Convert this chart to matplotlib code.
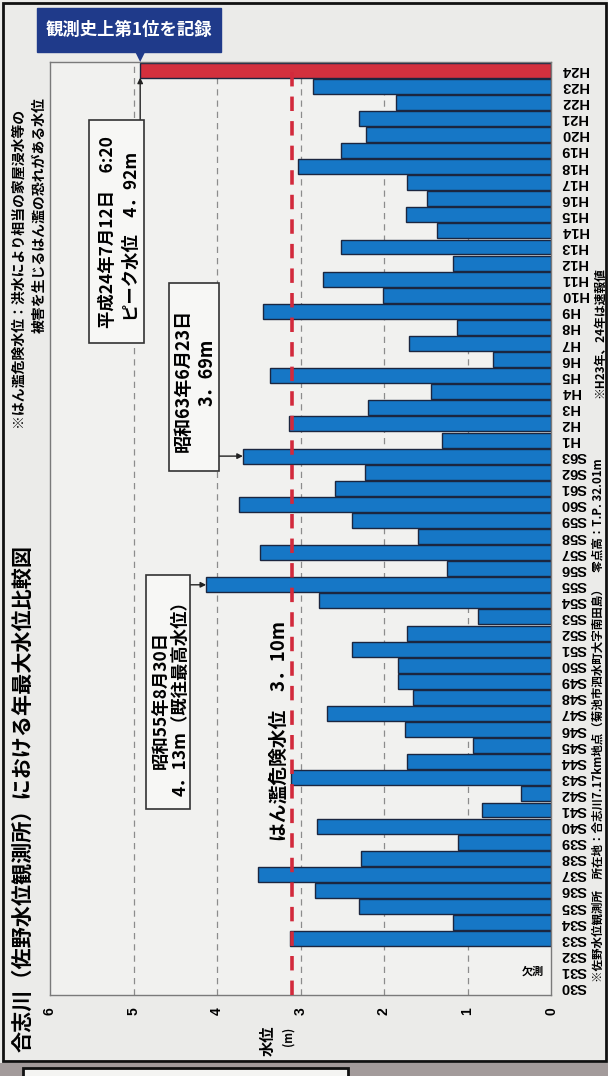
import numpy as np
import matplotlib
matplotlib.use('Agg')
import matplotlib.pyplot as plt
from matplotlib.patches import Rectangle, Polygon
from matplotlib.transforms import blended_transform_factory

plt.rcParams['font.family'] = ['Noto Sans CJK JP', 'DejaVu Sans']

# ---------------- data ----------------
years = ['S30', 'S31', 'S32', 'S33', 'S34', 'S35', 'S36', 'S37', 'S38', 'S39',
         'S40', 'S41', 'S42', 'S43', 'S44', 'S45', 'S46', 'S47', 'S48', 'S49',
         'S50', 'S51', 'S52', 'S53', 'S54', 'S55', 'S56', 'S57', 'S58', 'S59',
         'S60', 'S61', 'S62', 'S63', 'H1', 'H2', 'H3', 'H4', 'H5', 'H6',
         'H7', 'H8', 'H9', 'H10', 'H11', 'H12', 'H13', 'H14', 'H15', 'H16',
         'H17', 'H18', 'H19', 'H20', 'H21', 'H22', 'H23', 'H24']
nan = float('nan')
levels = [nan, nan, nan, 3.12, 1.17, 2.30, 2.83, 3.51, 2.28, 1.11,
          2.80, 0.83, 0.36, 3.11, 1.73, 0.93, 1.75, 2.68, 1.65, 1.83,
          1.83, 2.38, 1.73, 0.88, 2.78, 4.13, 1.24, 3.49, 1.59, 2.38,
          3.74, 2.59, 2.23, 3.69, 1.30, 3.14, 2.19, 1.44, 3.37, 0.69,
          1.70, 1.13, 3.45, 2.01, 2.73, 1.17, 2.52, 1.36, 1.74, 1.49,
          1.72, 3.03, 2.52, 2.21, 2.30, 1.86, 2.85, 4.92]
missing_year = 'S31'
record_year = 'H24'
danger_level = 3.10
value_ticks = [0, 1, 2, 3, 4, 5, 6]
value_tick_labels = ['0', '1', '2', '3', '4', '5', '6']

title = '合志川（佐野水位観測所）における年最大水位比較図'
note_lines = ['※はん濫危険水位：洪水により相当の家屋浸水等の',
              '被害を生じるはん濫の恐れがある水位']
danger_label = 'はん濫危険水位　3．10m'
record_banner = '観測史上第1位を記録'
annot_h24 = ['平成24年7月12日　6:20', 'ピーク水位　4．92m']
annot_s63 = ['昭和63年6月23日', '3．69m']
annot_s55 = ['昭和55年8月30日', '4．13m（既往最高水位）']
foot1 = '※佐野水位観測所　所在地：合志川7.17km地点（菊池市泗水町大字南田島）　零点高：T.P. 32.01m'
foot2 = '※H23年、24年は速報値'

# ---------------- layout helpers ----------------
W, H = 608, 1076
fig = plt.figure(figsize=(W / 100, H / 100), dpi=100)
PAPER = '#ebebe9'
fig.patch.set_facecolor(PAPER)


def frect(x0, y0, x1, y1, fc, ec, lw, z=5):
    r = Rectangle((x0 / W, 1 - y1 / H), (x1 - x0) / W, (y1 - y0) / H,
                  transform=fig.transFigure, facecolor=fc, edgecolor=ec,
                  lw=lw, zorder=z)
    fig.add_artist(r)


def ftext(px, py, s, **kw):
    kw.setdefault('zorder', 6)
    return fig.text(px / W, 1 - py / H, s, **kw)


L, R, T, B = 50, 551, 62, 995
ax = fig.add_axes([L / W, 1 - B / H, (R - L) / W, (B - T) / H])
ax.set_facecolor('#f1f1ef')

n = len(years)
pos = np.arange(n)
vals = np.array(levels, dtype=float)
ok = ~np.isnan(vals)
colors = np.array(['#d3303e' if y == record_year else '#1677c6' for y in years])
ax.barh(pos[ok], vals[ok], height=0.93, color=colors[ok],
        edgecolor='#1b2640', linewidth=1.0, zorder=2)

ax.set_xlim(6, 0)
ax.set_ylim(-0.5, n - 0.5)

for v in value_ticks[1:-1]:
    ax.axvline(v, color='#8c8c8c', lw=0.9, ls=(0, (5, 4)), zorder=1)
ax.axvline(danger_level, color='#d22a3c', lw=2.6, ls=(0, (4, 2.8)), zorder=3)

for s in ax.spines.values():
    s.set_color('#7a7a7a')
    s.set_linewidth(1.0)

ax.set_xticks(value_ticks)
ax.set_xticklabels(value_tick_labels, rotation=90, fontsize=10,
                   fontweight='bold', family=['Liberation Sans', 'DejaVu Sans'])
ax.tick_params(axis='x', length=0, pad=9)

ax.yaxis.tick_right()
ax.set_yticks(pos)
ax.set_yticklabels(years, rotation=180, fontsize=10.5, fontweight='bold',
                   family=['Liberation Sans', 'DejaVu Sans'], va='center')
ax.tick_params(axis='y', length=0, pad=7)

# missing-data label
mi = years.index(missing_year)
ax.text(0.08, mi, '欠測', ha='right', va='center', fontsize=8,
        fontweight='bold', zorder=4)

# ---------------- annotations ----------------
arrow_kw = dict(arrowstyle='-|>', color='#222222', lw=1.0,
                mutation_scale=8, shrinkA=0, shrinkB=0)

# H24 record box
frect(89, 120, 144, 343, '#f7f7f5', '#333333', 1.2)
ftext(108, 232, annot_h24[0], rotation=90, ha='center', va='center',
      fontsize=12.5, fontweight='bold')
ftext(132, 236, annot_h24[1], rotation=90, ha='center', va='center',
      fontsize=12.5, fontweight='bold')
ih = years.index(record_year)
ax.annotate('', xy=(levels[ih], ih - 0.47), xycoords='data',
            xytext=(levels[ih], 1 - 120 / H),
            textcoords=('data', 'figure fraction'),
            arrowprops=arrow_kw, annotation_clip=False)

# S63 box
frect(169, 283, 219, 471, '#f7f7f5', '#333333', 1.2)
ftext(183, 380, annot_s63[0], rotation=90, ha='center', va='center',
      fontsize=13, fontweight='bold')
ftext(207, 372, annot_s63[1], rotation=90, ha='center', va='center',
      fontsize=13, fontweight='bold')
i63 = years.index('S63')
ax.annotate('', xy=(levels[i63], i63), xycoords='data',
            xytext=(219 / W, i63), textcoords=('figure fraction', 'data'),
            arrowprops=arrow_kw, annotation_clip=False)

# S55 box
frect(146, 575, 190, 809, '#f7f7f5', '#333333', 1.2)
ftext(161, 700, annot_s55[0], rotation=90, ha='center', va='center',
      fontsize=12.5, fontweight='bold')
ftext(181, 694, annot_s55[1], rotation=90, ha='center', va='center',
      fontsize=12.5, fontweight='bold')
i55 = years.index('S55')
ax.annotate('', xy=(levels[i55], i55), xycoords='data',
            xytext=(190 / W, i55), textcoords=('figure fraction', 'data'),
            arrowprops=arrow_kw, annotation_clip=False)

# record banner
frect(37, 8, 221, 52, '#1f3a8a', '#1f3a8a', 1.0, z=7)
ftext(129, 30, record_banner, ha='center', va='center', fontsize=12.5,
      fontweight='bold', color='white', zorder=8)
bt = blended_transform_factory(ax.transData, fig.transFigure)
tri = Polygon([(levels[ih] + 0.065, 1 - 51 / H), (levels[ih] - 0.065, 1 - 51 / H),
               (levels[ih], 1 - 62 / H)], closed=True, transform=bt,
              facecolor='#1f3a8a', edgecolor='none', zorder=8, clip_on=False)
fig.add_artist(tri)

# danger level label
ftext(279, 731, danger_label, rotation=90, ha='center', va='center',
      fontsize=13.5, fontweight='bold')

# axis label
ftext(268, 1041, '水位', rotation=90, ha='center', va='center',
      fontsize=11, fontweight='bold')
ftext(288, 1036, '(m)', rotation=90, ha='center', va='center',
      fontsize=8, fontweight='bold')

# title, notes, footnotes
ftext(23, 1052, title, rotation=90, ha='center', va='bottom',
      fontsize=15.2, fontweight='bold')
ftext(18, 108, note_lines[0], rotation=90, ha='center', va='top',
      fontsize=10, fontweight='bold')
ftext(40, 97, note_lines[1], rotation=90, ha='center', va='top',
      fontsize=10, fontweight='bold')
ftext(598, 982, foot1, rotation=90, ha='center', va='bottom',
      fontsize=8.3, fontweight='bold')
ftext(600, 398, foot2, rotation=90, ha='center', va='bottom',
      fontsize=8.5, fontweight='bold')

# outer frame and bottom strip
frect(3, 3, 606, 1061, 'none', '#111111', 2.0, z=9)
frect(0, 1063, W, H + 2, '#a39b9b', 'none', 0, z=9)
frect(23, 1068, 348, H + 6, '#f4f4f2', '#111111', 2.0, z=10)

fig.savefig('out.png', dpi=100, facecolor=fig.get_facecolor())
